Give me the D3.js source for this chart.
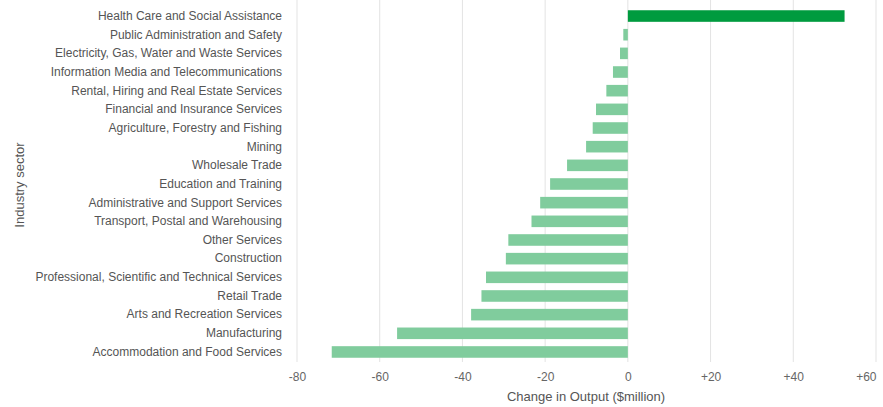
<!DOCTYPE html>
<html><head><meta charset="utf-8">
<script src="https://cdn.jsdelivr.net/npm/d3@7"></script>
<style>body{margin:0;background:#fff;}svg{display:block;font-family:"Liberation Sans",Arial,sans-serif;}</style>
</head><body><svg id="c" width="883" height="407"></svg>
<script>
const categories = ["Health Care and Social Assistance","Public Administration and Safety","Electricity, Gas, Water and Waste Services","Information Media and Telecommunications","Rental, Hiring and Real Estate Services","Financial and Insurance Services","Agriculture, Forestry and Fishing","Mining","Wholesale Trade","Education and Training","Administrative and Support Services","Transport, Postal and Warehousing","Other Services","Construction","Professional, Scientific and Technical Services","Retail Trade","Arts and Recreation Services","Manufacturing","Accommodation and Food Services"];
const values = [52.4,-1.1,-1.9,-3.6,-5.2,-7.7,-8.5,-10.1,-14.7,-18.8,-21.2,-23.3,-28.9,-29.5,-34.3,-35.4,-37.9,-55.8,-71.6];
const xTicks = [-80,-60,-40,-20,0,20,40,60];

const svg = d3.select("#c");
const x = d3.scaleLinear().domain([-80,60]).range([297,876]);
const y = d3.scaleBand().domain(categories).range([6.7,361.3]).paddingInner(0.38).paddingOuter(0.19);

// gridlines
svg.append("g").selectAll("line").data(xTicks).join("line")
  .attr("x1",d=>x(d)).attr("x2",d=>x(d)).attr("y1",0).attr("y2",362)
  .attr("stroke","#e3e3e3").attr("stroke-width",1);

// bars
svg.append("g").selectAll("rect").data(values).join("rect")
  .attr("x",d=>x(Math.min(0,d))).attr("width",d=>Math.abs(x(d)-x(0)))
  .attr("y",(d,i)=>y(categories[i])).attr("height",y.bandwidth())
  .attr("fill",d=>d>0?"#009b3f":"#80cc9d");

// y axis labels
const ya = svg.append("g").attr("transform","translate(290,0)")
  .call(d3.axisLeft(y).tickSize(0).tickPadding(8));
ya.select(".domain").remove();
ya.selectAll("text").attr("fill","#555").style("font-size","12px").style("font-family","'Liberation Sans',Arial,sans-serif");

// x axis
const xa = svg.append("g").attr("transform","translate(0,366)")
  .call(d3.axisBottom(x).tickValues(xTicks).tickSize(0).tickPadding(6).tickFormat(d=>d>0?"+"+d:String(d)));
xa.select(".domain").remove();
xa.selectAll("text").attr("fill","#666").style("font-size","12px").style("font-family","'Liberation Sans',Arial,sans-serif");
xa.selectAll(".tick").filter(d=>d===xTicks[xTicks.length-1]).select("text").attr("text-anchor","end").attr("dx","0");

svg.append("text").attr("x",586).attr("y",401).attr("text-anchor","middle")
  .attr("fill","#555").style("font-size","13px").text("Change in Output ($million)");
svg.append("text").attr("transform","translate(24,185) rotate(-90)").attr("text-anchor","middle")
  .attr("fill","#555").style("font-size","13px").text("Industry sector");
</script></body></html>
